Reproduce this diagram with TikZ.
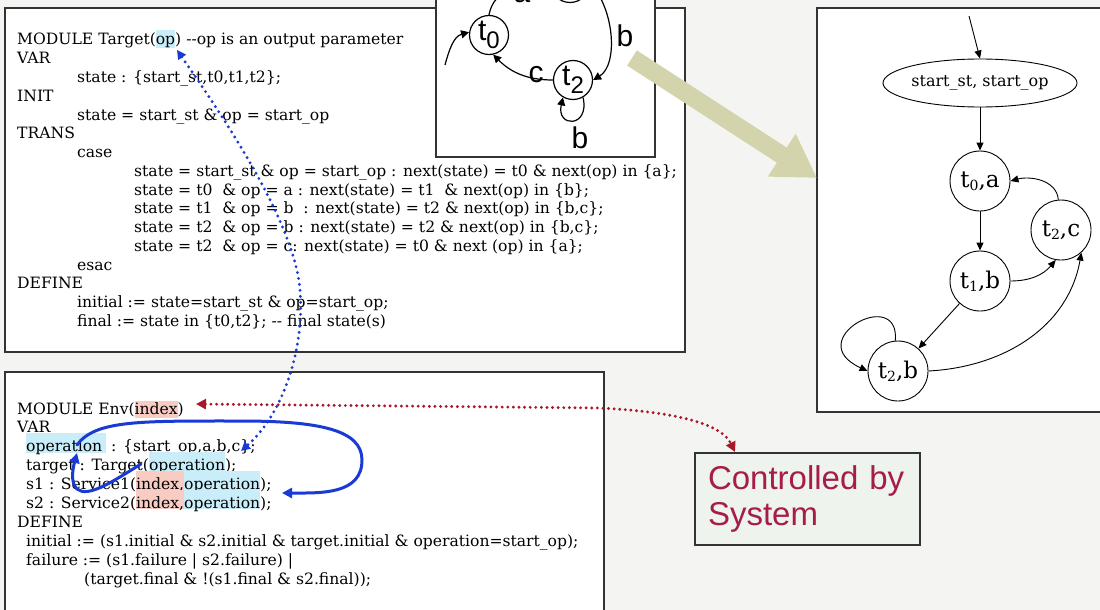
\documentclass[tikz,border=0pt]{standalone}
\usepackage{fontspec}
\usetikzlibrary{arrows.meta,shapes.geometric}
\newfontfamily\codefont{DejaVu Serif}
\newfontfamily\diagfont{Liberation Sans}
\definecolor{paper}{HTML}{F4F4F2}
\definecolor{frame}{HTML}{333333}
\definecolor{hlblue}{HTML}{C9EEFA}
\definecolor{hlred}{HTML}{F8CBC3}
\definecolor{linkblue}{HTML}{1A3AD6}
\definecolor{linkred}{HTML}{A8172A}
\definecolor{khaki}{HTML}{D4D4AC}
\definecolor{notefill}{HTML}{EFF3EE}
\definecolor{notetext}{HTML}{A61D4A}
% highlighted word: colour, height above baseline, depth below baseline, text
\newcommand\hlword[4]{{\setlength{\fboxsep}{0pt}\colorbox{#1}{\rule[-#3]{0pt}{\dimexpr#2+#3\relax}\smash{#4}}}}
% subscripts of the two automata
\newcommand\ssub[1]{\raisebox{-8pt}{\fontsize{24}{24}\selectfont #1}}
\newcommand\rsub[1]{\raisebox{-3pt}{\fontsize{14}{14}\selectfont #1}}
\begin{document}
\begin{tikzpicture}[x=1pt,y=1pt,
  codeline/.style={anchor=base west, inner sep=0pt, font=\codefont\fontsize{15.6}{18}\selectfont},
  panel/.style={draw=frame, fill=white, line width=1.1pt},
  sstate/.style={circle, draw=black, fill=white, line width=1.2pt, minimum size=39pt, inner sep=0pt, font=\diagfont\fontsize{30}{30}\selectfont},
  slabel/.style={anchor=base, inner sep=0pt, font=\diagfont\fontsize{30}{30}\selectfont},
  sedge/.style={draw=black, line width=1.2pt, -{Triangle[length=8pt,width=8pt]}},
  rstate/.style={circle, draw=black, fill=white, line width=0.9pt, minimum size=60pt, inner sep=0pt, font=\codefont\fontsize{23}{23}\selectfont},
  startnode/.style={ellipse, draw=black, fill=white, line width=0.9pt, minimum width=162pt, minimum height=48pt, inner sep=0pt, font=\codefont\fontsize{16}{18}\selectfont},
  redge/.style={draw=black, line width=0.9pt, -{Triangle[length=8pt,width=7pt]}},
  bluethick/.style={draw=linkblue, line width=3pt, line cap=round, -{Triangle[length=10pt,width=10pt]}},
  dotblue/.style={draw=linkblue, line width=3.2pt, line cap=round, dash pattern=on 0pt off 6pt, {Triangle[length=9pt,width=9pt]}-{Triangle[length=9pt,width=9pt]}},
  dotred/.style={draw=linkred, line width=3.2pt, line cap=round, dash pattern=on 0pt off 5.6pt, {Triangle[length=10pt,width=10pt]}-{Triangle[length=10pt,width=10pt]}},
  bigarrow/.style={draw=khaki, line width=18pt, -{Triangle[length=42pt 0 0,width=48pt 0 0]}},
  notebox/.style={draw=frame, fill=notefill, line width=1.5pt, minimum width=225pt, minimum height=92pt, text width=199pt, inner xsep=13pt, inner ysep=0pt, align=left, text=notetext, font=\diagfont\fontsize{33}{36}\selectfont}]

\useasboundingbox (0,0) rectangle (1100,-610);
\clip (0,0) rectangle (1100,-610);
\fill[paper] (0,0) rectangle (1100,-610);

% ---------- module Target ----------
\draw[panel] (5,-8) rectangle (685,-352);
\node[codeline] (tg1)  at (17,-45)     {MODULE Target(\hlword{hlblue}{15pt}{3pt}{op}) -{}-op is an output parameter};
\node[codeline] (tg2)  at (17,-63.75)  {VAR};
\node[codeline] (tg3)  at (77,-82.5)   {state : \{start\_st,t0,t1,t2\};};
\node[codeline] (tg4)  at (17,-101.25) {INIT};
\node[codeline] (tg5)  at (77,-120)    {state = start\_st \& op = start\_op};
\node[codeline] (tg6)  at (17,-138.75) {TRANS};
\node[codeline] (tg7)  at (77,-157.5)  {case};
\node[codeline] (tg8)  at (134,-176.25) {state = start\_st \& op = start\_op : next(state) = t0 \& next(op) in \{a\};};
\node[codeline] (tg9)  at (134,-195)    {state = t0~~\& op = a : next(state) = t1~~\& next(op) in \{b\};};
\node[codeline] (tg10) at (134,-213.75) {state = t1~~\& op = b~~: next(state) = t2 \& next(op) in \{b,c\};};
\node[codeline] (tg11) at (134,-232.5)  {state = t2~~\& op = b : next(state) = t2 \& next(op) in \{b,c\};};
\node[codeline] (tg12) at (134,-251.25) {state = t2~~\& op = c: next(state) = t0 \& next (op) in \{a\};};
\node[codeline] (tg13) at (77,-270)    {esac};
\node[codeline] (tg14) at (17,-288.75) {DEFINE};
\node[codeline] (tg15) at (77,-307.5)  {initial := state=start\_st \& op=start\_op;};
\node[codeline] (tg16) at (77,-326.25) {final := state in \{t0,t2\}; -{}- final state(s)};

% ---------- module Env ----------
\draw[panel] (5,-372) rectangle (604,-620);
\node[codeline] (env1)  at (17,-414)   {MODULE Env(\hlword{hlred}{13pt}{4pt}{index})};
\node[codeline] (env2)  at (17,-432.9) {VAR};
\node[codeline] (env3)  at (26,-451.8) {\hlword{hlblue}{19pt}{1pt}{operation\hspace{4pt}} : \{start\_op,a,b,c\};};
\node[codeline] (env4)  at (26,-470.7) {target : Target(\hlword{hlblue}{19pt}{1pt}{operation});};
\node[codeline] (env5)  at (26,-489.6) {s1 : Service1(\hlword{hlred}{19pt}{0pt}{index,}\hlword{hlblue}{19pt}{0pt}{operation});};
\node[codeline] (env6)  at (26,-508.5) {s2 : Service2(\hlword{hlred}{19pt}{0pt}{index,}\hlword{hlblue}{19pt}{0pt}{operation});};
\node[codeline] (env7)  at (17,-527.4) {DEFINE};
\node[codeline] (env8)  at (26,-546.3) {initial := (s1.initial \& s2.initial \& target.initial \& operation=start\_op);};
\node[codeline] (env9)  at (26,-565.2) {failure := (s1.failure | s2.failure) |};
\node[codeline] (env10) at (84,-584.1) {(target.final \& !(s1.final \& s2.final));};

% ---------- target service automaton ----------
\draw[panel] (436,10) rectangle (655,-157);
\node[sstate] (t0) at (489,-35) {t\ssub{0}};
\node[sstate] (t1) at (570,17) {t\ssub{1}};
\node[sstate] (t2) at (573,-80) {t\ssub{2}};
\coordinate (t0in) at (445,-65);
\draw[sedge] (t0in) to[out=75, in=195] (t0.172);
\draw[sedge] (t0.north) to[out=80, in=180] (t1.west);
\draw[sedge] (t1.east) .. controls (615,-10) and (618,-65) .. (t2.east);
\draw[sedge] (t2.west) to[out=180, in=-45] (t0.-78);
\draw[sedge] (t2.-60) .. controls (590,-128) and (556,-128) .. (t2.-120);
\node[slabel] (la)  at (522,-3)   {a};
\node[slabel] (lb1) at (625,-47)  {b};
\node[slabel] (lc)  at (536,-82)  {c};
\node[slabel] (lb2) at (580,-148) {b};

% ---------- composed automaton ----------
\draw[panel] (817,-8) rectangle (1110,-412);
\coordinate (rin) at (969,-16);
\node[startnode] (s0) at (980,-83) {start\_st, start\_op};
\node[rstate] (ta)  at (980,-181) {t\rsub{0},a};
\node[rstate] (tb)  at (980,-281) {t\rsub{1},b};
\node[rstate] (tc)  at (1061,-230) {t\rsub{2},c};
\node[rstate] (tbb) at (898,-371) {t\rsub{2},b};
\draw[redge] (rin) -- (s0.north);
\draw[redge] (s0) -- (ta);
\draw[redge] (ta) -- (tb);
\draw[redge] (tb.east) to[out=0, in=-130] (tc.-100);
\draw[redge] (tc.95) to[out=95, in=15] (ta.east);
\draw[redge] (tb) -- (tbb);
\draw[redge] (tbb.east) to[out=3, in=-100] (tc.-48);
\draw[redge] (tbb.95) .. controls (900,-285) and (800,-340) .. (tbb.west);

% ---------- note ----------
\node[notebox] (note) at (807.5,-499) {Controlled by\\System};

% ---------- from the service to the composition ----------
\coordinate (bigFrom) at (632,-58);
\coordinate (bigTo) at (817,-178);
\draw[bigarrow] (bigFrom) -- (bigTo);

% ---------- links between the modules ----------
\coordinate (opParam) at (177,-50);
\coordinate (opDomain) at (241,-451);
\draw[dotblue] (opParam) .. controls (215,-105) and (295,-220) .. (300,-290)
               .. controls (305,-350) and (282,-415) .. (opDomain);

\coordinate (envIndex) at (196,-404);
\coordinate (noteTop) at (735,-452);
\draw[dotred] (envIndex) -- (600,-408) .. controls (680,-412) and (722,-425) .. (noteTop);

\coordinate (opVar) at (77,-445);
\coordinate (s1Op) at (282,-493);
\draw[bluethick] (opVar) .. controls (95,-420) and (140,-421) .. (240,-421)
                 .. controls (320,-421) and (362,-430) .. (362,-460)
                 .. controls (362,-495) and (320,-493) .. (s1Op);

\coordinate (targetOp) at (141,-464);
\coordinate (opVarFoot) at (77,-453);
\draw[bluethick] (targetOp) .. controls (112,-482) and (88,-498) .. (77,-489)
                 .. controls (70,-482) and (73,-468) .. (opVarFoot);
\end{tikzpicture}
\end{document}
